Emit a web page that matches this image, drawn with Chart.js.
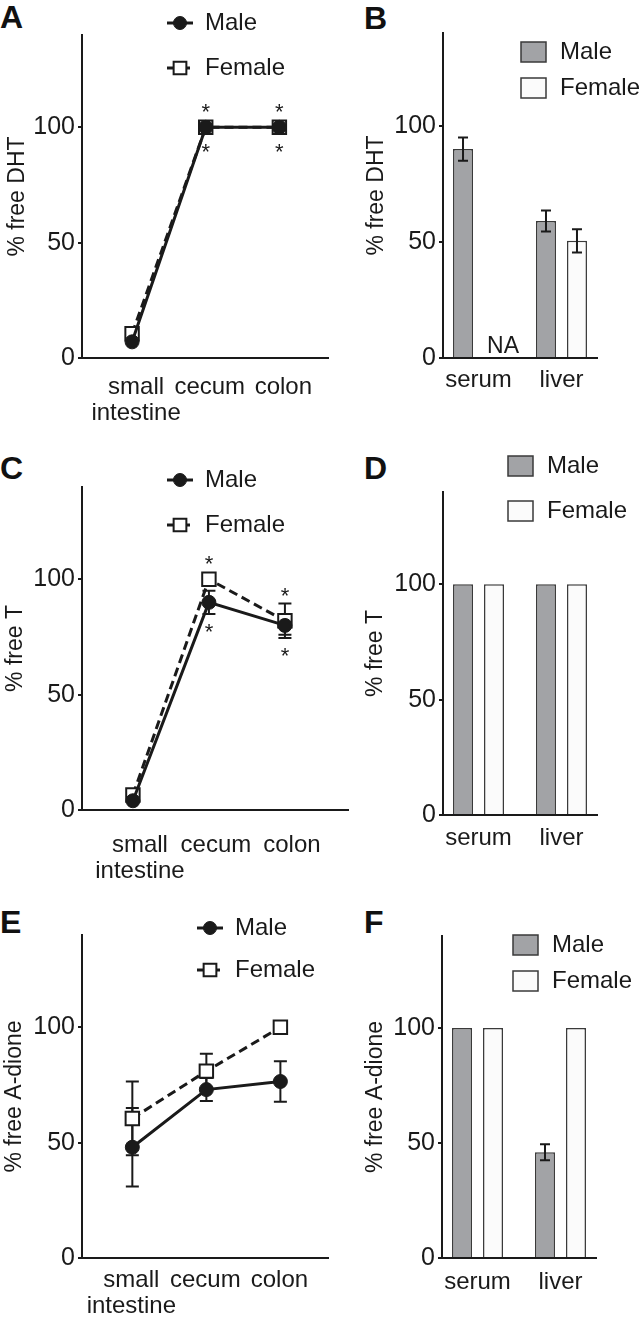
<!DOCTYPE html>
<html>
<head>
<meta charset="utf-8">
<script src="https://cdn.jsdelivr.net/npm/chart.js@4.4.1/dist/chart.umd.min.js"></script>
<style>
  body { margin: 0; background: #fff; width: 641px; height: 1324px; position: relative; overflow: hidden;
         font-family: "Liberation Sans", Arial, sans-serif; }
  canvas { position: absolute; }
  .letter { position: absolute; font-weight: bold; font-size: 32px; line-height: 1; color: #111; }
</style>
</head>
<body>
<div class="letter" style="left:0;top:1px">A</div>
<div class="letter" style="left:364px;top:2px">B</div>
<div class="letter" style="left:0;top:452px">C</div>
<div class="letter" style="left:364px;top:452px">D</div>
<div class="letter" style="left:0;top:906px">E</div>
<div class="letter" style="left:364px;top:906px">F</div>

<canvas id="chartA" width="340" height="440" style="left:0;top:0"></canvas>
<canvas id="chartB" width="281" height="440" style="left:360px;top:0"></canvas>
<canvas id="chartC" width="360" height="440" style="left:0;top:440px"></canvas>
<canvas id="chartD" width="281" height="440" style="left:360px;top:440px"></canvas>
<canvas id="chartE" width="340" height="444" style="left:0;top:880px"></canvas>
<canvas id="chartF" width="281" height="444" style="left:360px;top:880px"></canvas>

<script>
// categories and ticks
const gutSites = [['small', 'intestine'], 'cecum', 'colon'];
const bloodSites = ['serum', 'liver'];
const yTicks = [0, 50, 100];

// % free DHT
const dhtGutMale = [7, 100, 100];
const dhtGutFemale = [10.5, 100, 100];
const dhtGutStars = [false, true, true];
const dhtBloodMale = [90, 59];
const dhtBloodMaleErr = [5, 4.5];
const dhtBloodFemale = [null, 50.5];   // NA
const dhtBloodFemaleErr = [0, 5];

// % free T
const tGutMale = [4, 90, 80];
const tGutMaleErr = [0, 5, 4];
const tGutFemale = [6.5, 100, 82];
const tGutFemaleErr = [0, 0, 7.5];
const tGutStars = [false, true, true];
const tBloodMale = [100, 100];
const tBloodFemale = [100, 100];

// % free A-dione
const adGutMale = [48, 73, 76.5];
const adGutMaleErr = [17, 5, 8.8];
const adGutFemale = [60.5, 81, 100];
const adGutFemaleErr = [16, 7.5, 0];
const adBloodMale = [100, 46];
const adBloodMaleErr = [0, 3.5];
const adBloodFemale = [100, 100];

const FONT = '"Liberation Sans", Arial, sans-serif';
const INK = '#1a1a1a';
const MALE_GREY = '#a2a3a6';
const FEMALE_WHITE = '#fbfbfb';
Chart.defaults.font.family = FONT;
Chart.defaults.color = INK;

// error bars drawn through the y scale
function errorBars(hook) {
  return {
    id: 'errorBars',
    [hook](chart) {
      const ctx = chart.ctx, y = chart.scales.y;
      chart.data.datasets.forEach((ds, i) => {
        if (!ds.errors) return;
        const cap = ds.capWidth / 2;
        chart.getDatasetMeta(i).data.forEach((el, j) => {
          const v = ds.data[j].y, e = ds.errors[j];
          if (v == null || !e) return;
          const top = y.getPixelForValue(v + e), bot = y.getPixelForValue(v - e);
          ctx.save();
          ctx.strokeStyle = INK;
          ctx.lineWidth = 2;
          ctx.beginPath();
          ctx.moveTo(el.x, top); ctx.lineTo(el.x, bot);
          ctx.moveTo(el.x - cap, top); ctx.lineTo(el.x + cap, top);
          ctx.moveTo(el.x - cap, bot); ctx.lineTo(el.x + cap, bot);
          ctx.stroke();
          ctx.restore();
        });
      });
    }
  };
}

// asterisks above and below significant sites
function stars(flags) {
  return {
    id: 'stars',
    afterDatasetsDraw(chart) {
      const ctx = chart.ctx, x = chart.scales.x, y = chart.scales.y;
      ctx.save();
      ctx.fillStyle = INK;
      ctx.font = '22px ' + FONT;
      ctx.textAlign = 'center';
      ctx.textBaseline = 'middle';
      flags.forEach((on, j) => {
        if (!on) return;
        let top = Infinity, bot = -Infinity;
        chart.data.datasets.forEach(ds => {
          const v = ds.data[j].y, e = (ds.errors && ds.errors[j]) || 0;
          top = Math.min(top, y.getPixelForValue(v + e), y.getPixelForValue(v) - 7);
          bot = Math.max(bot, y.getPixelForValue(v - e), y.getPixelForValue(v) + 7);
        });
        const px = x.getPixelForValue(j);
        ctx.fillText('*', px, top - 13 + 6);
        ctx.fillText('*', px, bot + 13 + 6);
      });
      ctx.restore();
    }
  };
}

// "NA" where a bar has no value
const naLabel = {
  id: 'naLabel',
  afterDatasetsDraw(chart) {
    const ctx = chart.ctx;
    chart.data.datasets.forEach((ds, i) => {
      chart.getDatasetMeta(i).data.forEach((el, j) => {
        if (ds.data[j].y != null) return;
        ctx.save();
        ctx.fillStyle = INK;
        ctx.font = '23px ' + FONT;
        ctx.textAlign = 'center';
        ctx.textBaseline = 'alphabetic';
        ctx.fillText('NA', el.x + 9, chart.chartArea.bottom - 5);
        ctx.restore();
      });
    });
  }
};

function lineLegend(pos) {
  return {
    id: 'lineLegend',
    afterDraw(chart) {
      const ctx = chart.ctx;
      chart.data.datasets.forEach((ds, i) => {
        const cy = pos.y[i];
        ctx.save();
        ctx.strokeStyle = INK;
        ctx.lineWidth = 3;
        ctx.setLineDash(ds.borderDash || []);
        ctx.beginPath();
        ctx.moveTo(pos.x - 13, cy); ctx.lineTo(pos.x + 13, cy);
        ctx.stroke();
        ctx.setLineDash([]);
        ctx.fillStyle = ds.pointBackgroundColor;
        ctx.lineWidth = ds.pointBorderWidth;
        Chart.helpers.drawPoint(ctx, {
          pointStyle: ds.pointStyle, radius: ds.pointRadius - 0.5, borderWidth: ds.pointBorderWidth
        }, pos.x, cy);
        ctx.fillStyle = INK;
        ctx.font = '24px ' + FONT;
        ctx.textBaseline = 'middle';
        ctx.fillText(ds.label, pos.textX, cy);
        ctx.restore();
      });
    }
  };
}

function barLegend(pos) {
  return {
    id: 'barLegend',
    afterDraw(chart) {
      const ctx = chart.ctx;
      chart.data.datasets.forEach((ds, i) => {
        const cy = pos.y[i];
        ctx.save();
        ctx.fillStyle = ds.backgroundColor;
        ctx.strokeStyle = ds.borderColor;
        ctx.lineWidth = 1.5;
        ctx.fillRect(pos.x, cy - 10, 25, 20);
        ctx.strokeRect(pos.x, cy - 10, 25, 20);
        ctx.fillStyle = INK;
        ctx.font = '24px ' + FONT;
        ctx.textBaseline = 'middle';
        ctx.fillText(ds.label, pos.textX, cy);
        ctx.restore();
      });
    }
  };
}

function yScale(cfg) {
  return {
    min: 0, max: 140,
    afterBuildTicks: s => { s.ticks = yTicks.map(v => ({ value: v })); },
    afterFit: s => { s.width = cfg.yWidth; },
    grid: { display: true, drawOnChartArea: false, drawTicks: true, tickLength: 4, color: INK, lineWidth: 2 },
    border: { color: INK, width: 2 },
    ticks: { padding: 3, font: { size: 25 }, color: INK },
    title: { display: true, text: cfg.title, font: { size: 23 }, color: INK, padding: { top: cfg.titlePad, bottom: 0 } }
  };
}

function xScale(cfg, cats) {
  return {
    type: 'linear', min: cfg.xMin, max: cfg.xMax, offset: false,
    afterBuildTicks: s => { s.ticks = cats.map((_, i) => ({ value: i })); },
    afterFit: s => { s.height = cfg.xHeight; },
    grid: { display: false, drawTicks: false },
    border: { color: INK, width: 2 },
    ticks: { autoSkip: false, maxRotation: 0, padding: cfg.xPad, labelOffset: cfg.labelShift || 0, color: INK,
             font: { size: 24, lineHeight: 1.1 }, callback: v => cats[v] }
  };
}

function lineChart(id, cfg) {
  return new Chart(document.getElementById(id), {
    type: 'line',
    data: {
      datasets: [
        { label: 'Male', data: cfg.male.map((v, i) => ({ x: i, y: v })), errors: cfg.maleErr, capWidth: 13,
          borderColor: INK, borderWidth: 3, pointStyle: 'circle', pointRadius: 7,
          pointBackgroundColor: INK, pointBorderColor: INK, pointBorderWidth: 1 },
        { label: 'Female', data: cfg.female.map((v, i) => ({ x: i, y: v })), errors: cfg.femaleErr, capWidth: 13,
          borderColor: INK, borderWidth: 3, borderDash: [9, 5], pointStyle: 'rect', pointRadius: 9.5,
          pointBackgroundColor: '#fff', pointBorderColor: INK, pointBorderWidth: 2 }
      ]
    },
    options: {
      responsive: false, animation: false,
      layout: { padding: { left: 0, top: cfg.top, right: cfg.right, bottom: 0 } },
      plugins: { legend: { display: false }, tooltip: { enabled: false } },
      scales: { x: xScale(cfg, gutSites), y: yScale(cfg) }
    },
    plugins: [errorBars('beforeDatasetsDraw'), stars(cfg.stars || []), lineLegend(cfg.legend)]
  });
}

function barChart(id, cfg) {
  const bar = { categoryPercentage: 0.747, barPercentage: 0.645, borderColor: '#3a3a3a', borderWidth: 1.5, capWidth: 10 };
  return new Chart(document.getElementById(id), {
    type: 'bar',
    data: {
      datasets: [
        Object.assign({ label: 'Male', data: cfg.male.map((v, i) => ({ x: i, y: v })), errors: cfg.maleErr,
          backgroundColor: MALE_GREY }, bar),
        Object.assign({ label: 'Female', data: cfg.female.map((v, i) => ({ x: i, y: v })), errors: cfg.femaleErr,
          backgroundColor: FEMALE_WHITE }, bar)
      ]
    },
    options: {
      responsive: false, animation: false,
      layout: { padding: { left: 0, top: cfg.top, right: cfg.right, bottom: 0 } },
      plugins: { legend: { display: false }, tooltip: { enabled: false } },
      scales: { x: xScale(cfg, bloodSites), y: yScale(cfg) }
    },
    plugins: [errorBars('afterDatasetsDraw'), naLabel, barLegend(cfg.legend)]
  });
}

lineChart('chartA', {
  male: dhtGutMale, female: dhtGutFemale, stars: dhtGutStars,
  title: '% free DHT', titlePad: 4, yWidth: 82, top: 35, right: 7, xHeight: 82, xPad: 16, labelShift: 4,
  xMin: -0.68, xMax: 2.667, legend: { x: 180, y: [23, 68], textX: 205 }
});
barChart('chartB', {
  male: dhtBloodMale, maleErr: dhtBloodMaleErr, female: dhtBloodFemale, femaleErr: dhtBloodFemaleErr,
  title: '% free DHT', titlePad: 3, yWidth: 83, top: 33, right: 44, xHeight: 82, xPad: 9,
  xMin: -0.428, xMax: 1.428, legend: { x: 161, y: [52, 88], textX: 200 }
});
lineChart('chartC', {
  male: tGutMale, maleErr: tGutMaleErr, female: tGutFemale, femaleErr: tGutFemaleErr, stars: tGutStars,
  title: '% free T', titlePad: 2, yWidth: 82, top: 47, right: 12, xHeight: 70, xPad: 22, labelShift: 7,
  xMin: -0.67, xMax: 2.83, legend: { x: 180, y: [40, 85], textX: 205 }
});
barChart('chartD', {
  male: tBloodMale, female: tBloodFemale,
  title: '% free T', titlePad: 2, yWidth: 83, top: 52, right: 44, xHeight: 65, xPad: 10,
  xMin: -0.428, xMax: 1.428, legend: { x: 148, y: [26, 71], textX: 187 }
});
lineChart('chartE', {
  male: adGutMale, maleErr: adGutMaleErr, female: adGutFemale, femaleErr: adGutFemaleErr,
  title: '% free A-dione', titlePad: 1, yWidth: 82, top: 55, right: 7, xHeight: 66, xPad: 9, labelShift: -1,
  xMin: -0.68, xMax: 2.65, legend: { x: 210, y: [48, 90], textX: 235 }
});
barChart('chartF', {
  male: adBloodMale, maleErr: adBloodMaleErr, female: adBloodFemale,
  title: '% free A-dione', titlePad: 2, yWidth: 82, top: 56, right: 45, xHeight: 66, xPad: 11,
  xMin: -0.428, xMax: 1.428, legend: { x: 153, y: [65, 101], textX: 192 }
});
</script>
</body>
</html>
